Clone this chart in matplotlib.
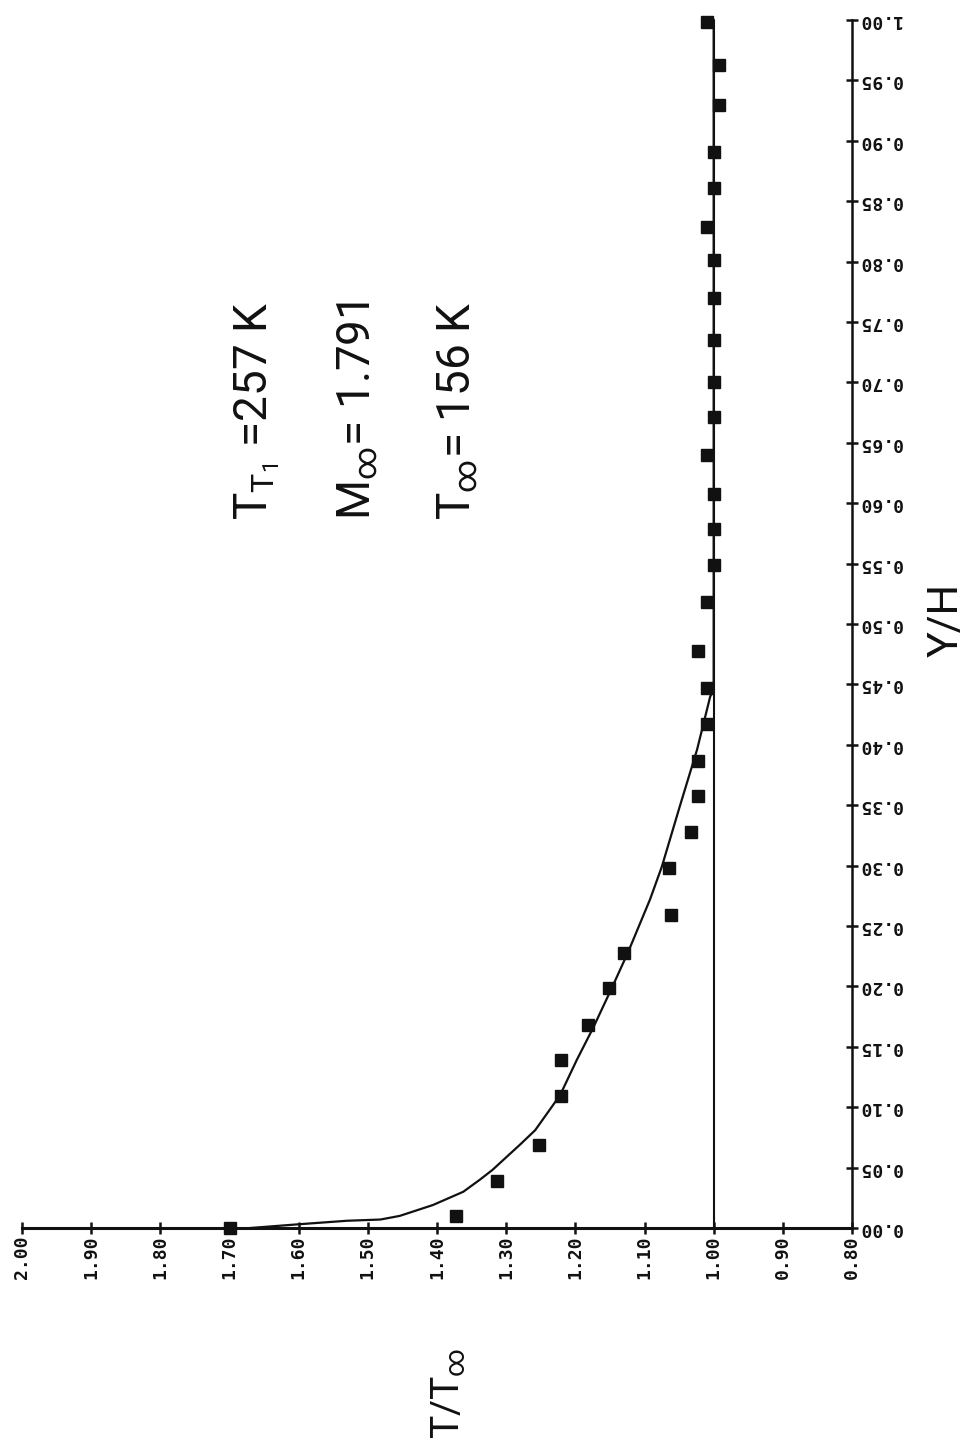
import numpy as np
import matplotlib
matplotlib.use('Agg')
import matplotlib.pyplot as plt

# temperature profile across the layer, plotted turned on its side
# measured points (Y/H, T/Tinf)
yh_meas = [0.000, 0.010, 0.039, 0.069, 0.109, 0.139, 0.168, 0.199, 0.228, 0.259,
           0.298, 0.328, 0.358, 0.387, 0.417, 0.447, 0.478, 0.518, 0.549, 0.579,
           0.608, 0.640, 0.671, 0.700, 0.735, 0.770, 0.801, 0.829, 0.861, 0.891,
           0.930, 0.963, 0.998]
t_meas = [1.700, 1.372, 1.313, 1.252, 1.221, 1.221, 1.182, 1.152, 1.130, 1.062,
          1.065, 1.033, 1.023, 1.023, 1.010, 1.010, 1.022, 1.010, 1.000, 1.000,
          1.000, 1.010, 1.000, 1.000, 1.000, 1.000, 1.000, 1.010, 1.000, 1.000,
          0.993, 0.993, 1.010]

# computed profile
yh_fit = [0.000, 0.003, 0.006, 0.007, 0.010, 0.019, 0.030, 0.040, 0.048, 0.069,
          0.081, 0.110, 0.139, 0.166, 0.199, 0.228, 0.272, 0.299, 0.349, 0.396,
          0.440, 0.445, 1.000]
t_fit = [1.670, 1.602, 1.530, 1.482, 1.454, 1.406, 1.362, 1.338, 1.320, 1.280,
         1.258, 1.222, 1.198, 1.174, 1.147, 1.124, 1.092, 1.075, 1.049, 1.024,
         1.005, 1.000, 1.000]

t_ticks = [2.00, 1.90, 1.80, 1.70, 1.60, 1.50, 1.40, 1.30, 1.20, 1.10, 1.00, 0.90, 0.80]
yh_ticks = [0.00, 0.05, 0.10, 0.15, 0.20, 0.25, 0.30, 0.35, 0.40, 0.45, 0.50,
            0.55, 0.60, 0.65, 0.70, 0.75, 0.80, 0.85, 0.90, 0.95, 1.00]

conditions = [r'$T_{T_1}$ =257 K', r'$M_\infty$= 1.791', r'$T_\infty$= 156 K']

thin = ['Roboto', 'DejaVu Sans']
plt.rcParams['mathtext.fontset'] = 'custom'
plt.rcParams['mathtext.rm'] = 'Roboto'
plt.rcParams['mathtext.default'] = 'regular'

ink = '#111111'

fig = plt.figure(figsize=(9.68, 14.46), dpi=100)
ax = fig.add_axes([22/968, 1 - 1228/1446, 830/968, 1208/1446])

ax.set_xlim(2.0, 0.8)
ax.set_ylim(0.0, 1.0)

# reference line T/Tinf = 1
ax.axvline(1.0, color=ink, lw=1.5, zorder=2)
ax.plot(t_fit, yh_fit, color=ink, lw=1.6, zorder=3, clip_on=False,
        solid_joinstyle='round')
ax.plot(t_meas, yh_meas, ls='none', marker='s', ms=9, color=ink,
        zorder=4, clip_on=False)

for s in ['left', 'top']:
    ax.spines[s].set_visible(False)
ax.spines['bottom'].set_linewidth(2.2)
ax.spines['right'].set_linewidth(1.8)
ax.spines['bottom'].set_color(ink)
ax.spines['right'].set_color(ink)

ax.yaxis.tick_right()
ax.xaxis.tick_bottom()
ax.set_xticks(t_ticks)
ax.set_yticks(yh_ticks)
ax.set_xticklabels(['%.2f' % v for v in t_ticks], rotation=90,
                   family='DejaVu Sans Mono', fontweight='bold', fontsize=13)
ax.set_yticklabels(['%.2f' % v for v in yh_ticks], rotation=180,
                   family='DejaVu Sans Mono', fontweight='bold', fontsize=13,
                   va='center')
ax.tick_params(axis='both', direction='inout', length=9, width=1.8,
               color=ink, labelcolor=ink)
ax.tick_params(axis='x', pad=1)
ax.tick_params(axis='y', pad=0)

# flow conditions
for t_pos, txt in zip([1.660, 1.515, 1.370], conditions):
    ax.text(t_pos, 0.586, txt, rotation=90, ha='center', va='bottom',
            family=thin, fontsize=33, color=ink)

fig.text(967/968, 1 - 620/1446, 'Y/H', rotation=90, ha='right', va='center',
         family=thin, fontsize=31, color=ink)
fig.text(449/968, 1 - 1393/1446, r'T/$T_\infty$', rotation=90, ha='center',
         va='center', family=thin, fontsize=28, color=ink)

fig.savefig('out.png', dpi=100, facecolor='white')
